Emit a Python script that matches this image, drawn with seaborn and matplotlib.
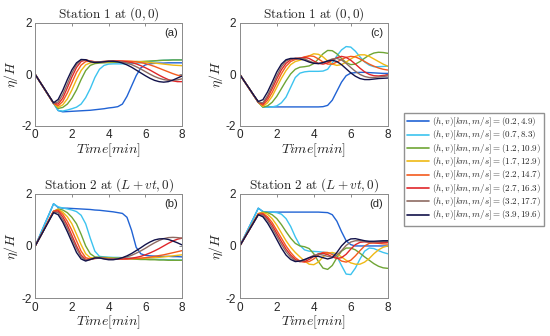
import numpy as np
import pandas as pd
import matplotlib
matplotlib.use("Agg")
import matplotlib.pyplot as plt
import seaborn as sns

# time axis [min]
time = [0, 0.25, 0.5, 0.75, 1, 1.25, 1.5, 1.75, 2, 2.25, 2.5, 2.75, 3, 3.25, 3.5, 3.75,
        4, 4.25, 4.5, 4.75, 5, 5.25, 5.5, 5.75, 6, 6.25, 6.5, 6.75, 7, 7.25, 7.5, 7.75, 8]

cases = ["(0.2,4.9)", "(0.7,8.3)", "(1.2,10.9)", "(1.7,12.9)",
         "(2.2,14.7)", "(2.7,16.3)", "(3.2,17.7)", "(3.9,19.6)"]
colors = ["#2163d4", "#3cc3ef", "#6fa535", "#efb914",
          "#f45a1e", "#e0262a", "#8e6b62", "#12124a"]

# panel (a): station 1, model 1
eta_a = [
    [0, -.28, -.56, -.84, -1.12, -1.4, -1.45, -1.44, -1.43, -1.42, -1.41, -1.4, -1.39, -1.37, -1.35, -1.33,
     -1.3, -1.28, -1.25, -1.15, -0.85, -0.45, -0.05, 0.25, 0.37, 0.41, 0.43, 0.44, 0.44, 0.45, 0.45, 0.45, 0.45],
    [0, -.28, -.56, -.84, -1.12, -1.4, -1.42, -1.38, -1.33, -1.27, -1.15, -0.9, -0.55, -0.12, 0.2, 0.35,
     0.4, 0.41, 0.41, 0.41, 0.41, 0.42, 0.43, 0.45, 0.47, 0.5, 0.52, 0.54, 0.55, 0.56, 0.57, 0.57, 0.57],
    [0, -.28, -.56, -.84, -1.12, -1.32, -1.28, -1.15, -0.92, -0.6, -0.2, 0.15, 0.35, 0.42, 0.44, 0.45,
     0.46, 0.47, 0.47, 0.48, 0.48, 0.49, 0.5, 0.5, 0.51, 0.52, 0.53, 0.54, 0.55, 0.55, 0.56, 0.56, 0.56],
    [0, -.28, -.56, -.84, -1.12, -1.28, -1.18, -0.95, -0.6, -0.2, 0.15, 0.37, 0.45, 0.46, 0.47, 0.48,
     0.49, 0.5, 0.5, 0.5, 0.5, 0.5, 0.5, 0.49, 0.48, 0.46, 0.44, 0.42, 0.4, 0.38, 0.36, 0.35, 0.34],
    [0, -.28, -.56, -.84, -1.12, -1.22, -1.05, -0.72, -0.32, 0.08, 0.36, 0.5, 0.51, 0.49, 0.49, 0.5,
     0.51, 0.52, 0.52, 0.52, 0.52, 0.51, 0.49, 0.46, 0.42, 0.37, 0.31, 0.24, 0.17, 0.1, 0.03, -0.03, -0.07],
    [0, -.28, -.56, -.84, -1.12, -1.15, -0.92, -0.52, -0.1, 0.27, 0.5, 0.56, 0.52, 0.49, 0.49, 0.5,
     0.51, 0.52, 0.52, 0.51, 0.49, 0.46, 0.41, 0.34, 0.26, 0.17, 0.07, -0.03, -0.12, -0.2, -0.25, -0.28, -0.28],
    [0, -.28, -.56, -.84, -1.12, -1.07, -0.78, -0.37, 0.05, 0.38, 0.55, 0.57, 0.51, 0.48, 0.49, 0.5,
     0.51, 0.51, 0.5, 0.48, 0.44, 0.38, 0.3, 0.21, 0.11, 0.01, -0.08, -0.15, -0.2, -0.23, -0.23, -0.21, -0.17],
    [0, -.28, -.55, -.83, -1.1, -0.97, -0.62, -0.2, 0.18, 0.45, 0.58, 0.57, 0.49, 0.46, 0.47, 0.49,
     0.51, 0.51, 0.49, 0.44, 0.37, 0.28, 0.17, 0.06, -0.05, -0.15, -0.23, -0.28, -0.3, -0.28, -0.22, -0.14, -0.06],
]

# panel (b): station 2, model 1
eta_b = [
    [0, .4, .81, 1.21, 1.62, 1.48, 1.45, 1.45, 1.44, 1.43, 1.42, 1.41, 1.4, 1.38, 1.37, 1.35,
     1.33, 1.31, 1.28, 1.25, 1.1, 0.6, -0.05, -0.3, -0.36, -0.38, -0.39, -0.4, -0.4, -0.4, -0.41, -0.41, -0.42],
    [0, .4, .81, 1.21, 1.62, 1.5, 1.46, 1.42, 1.38, 1.32, 1.18, 0.85, 0.3, -0.2, -0.4, -0.42,
     -0.43, -0.44, -0.44, -0.45, -0.46, -0.47, -0.48, -0.49, -0.5, -0.5, -0.51, -0.52, -0.52, -0.53, -0.53, -0.54, -0.54],
    [0, .33, .66, 1.0, 1.33, 1.42, 1.38, 1.28, 1.1, 0.85, 0.45, 0.0, -0.3, -0.42, -0.43, -0.44,
     -0.45, -0.46, -0.47, -0.48, -0.49, -0.5, -0.51, -0.52, -0.52, -0.53, -0.53, -0.54, -0.54, -0.55, -0.55, -0.55, -0.55],
    [0, .33, .66, 1.0, 1.33, 1.4, 1.3, 1.12, 0.85, 0.45, 0.05, -0.3, -0.45, -0.46, -0.46, -0.47,
     -0.47, -0.48, -0.48, -0.48, -0.48, -0.48, -0.48, -0.48, -0.47, -0.46, -0.45, -0.44, -0.42, -0.4, -0.38, -0.36, -0.34],
    [0, .33, .66, 1.0, 1.33, 1.38, 1.22, 0.95, 0.6, 0.2, -0.2, -0.45, -0.5, -0.48, -0.47, -0.48,
     -0.49, -0.5, -0.5, -0.5, -0.5, -0.49, -0.48, -0.47, -0.45, -0.43, -0.4, -0.37, -0.34, -0.3, -0.26, -0.22, -0.18],
    [0, .33, .66, 1.0, 1.33, 1.34, 1.12, 0.8, 0.4, 0.0, -0.35, -0.52, -0.52, -0.48, -0.47, -0.48,
     -0.49, -0.5, -0.5, -0.5, -0.49, -0.47, -0.44, -0.4, -0.34, -0.27, -0.19, -0.1, 0.0, 0.1, 0.19, 0.26, 0.3],
    [0, .32, .65, .97, 1.3, 1.28, 1.02, 0.68, 0.28, -0.1, -0.42, -0.55, -0.52, -0.47, -0.46, -0.48,
     -0.5, -0.5, -0.49, -0.46, -0.42, -0.36, -0.28, -0.19, -0.09, 0.02, 0.12, 0.21, 0.28, 0.32, 0.33, 0.32, 0.3],
    [0, .32, .64, .96, 1.28, 1.2, 0.92, 0.55, 0.15, -0.25, -0.5, -0.58, -0.52, -0.46, -0.46, -0.5,
     -0.53, -0.53, -0.5, -0.45, -0.38, -0.29, -0.18, -0.07, 0.05, 0.15, 0.23, 0.27, 0.28, 0.25, 0.19, 0.12, 0.04],
]

# panel (c): station 1, model 2
eta_c = [
    [0, -.27, -.54, -.81, -1.08, -1.25, -1.26, -1.26, -1.26, -1.26, -1.26, -1.26, -1.26, -1.26, -1.26, -1.26,
     -1.26, -1.26, -1.25, -1.2, -1.0, -0.65, -0.3, -0.05, 0.05, 0.07, 0.08, 0.08, 0.07, 0.06, 0.05, 0.04, 0.04],
    [0, -.27, -.54, -.81, -1.08, -1.27, -1.27, -1.26, -1.22, -1.1, -0.88, -0.5, -0.12, 0.05, 0.1, 0.12,
     0.12, 0.12, 0.13, 0.2, 0.45, 0.72, 0.95, 1.08, 1.06, 0.9, 0.68, 0.48, 0.36, 0.3, 0.3, 0.31, 0.32],
    [0, -.27, -.54, -.81, -1.08, -1.27, -1.22, -1.08, -0.85, -0.55, -0.25, 0.02, 0.2, 0.28, 0.3, 0.33,
     0.42, 0.6, 0.8, 0.93, 0.92, 0.8, 0.62, 0.46, 0.38, 0.4, 0.5, 0.63, 0.75, 0.83, 0.86, 0.85, 0.82],
    [0, -.27, -.54, -.81, -1.08, -1.24, -1.1, -0.85, -0.5, -0.15, 0.15, 0.38, 0.5, 0.55, 0.62, 0.72,
     0.8, 0.78, 0.68, 0.52, 0.4, 0.35, 0.38, 0.48, 0.6, 0.7, 0.76, 0.76, 0.7, 0.6, 0.5, 0.4, 0.32],
    [0, -.27, -.54, -.81, -1.08, -1.2, -1.0, -0.7, -0.33, 0.03, 0.32, 0.5, 0.58, 0.62, 0.68, 0.72,
     0.7, 0.6, 0.48, 0.4, 0.4, 0.48, 0.58, 0.66, 0.7, 0.68, 0.6, 0.5, 0.4, 0.32, 0.25, 0.2, 0.17],
    [0, -.27, -.54, -.81, -1.08, -1.15, -0.9, -0.55, -0.17, 0.18, 0.43, 0.57, 0.62, 0.64, 0.66, 0.62,
     0.52, 0.43, 0.4, 0.45, 0.55, 0.65, 0.7, 0.66, 0.55, 0.4, 0.24, 0.1, 0.0, -0.05, -0.06, -0.04, -0.02],
    [0, -.27, -.54, -.81, -1.08, -1.1, -0.82, -0.45, -0.05, 0.3, 0.52, 0.6, 0.62, 0.63, 0.6, 0.52,
     0.45, 0.42, 0.45, 0.53, 0.6, 0.62, 0.56, 0.43, 0.27, 0.12, 0.0, -0.08, -0.12, -0.12, -0.1, -0.08, -0.06],
    [0, -.27, -.53, -.8, -1.05, -0.98, -0.68, -0.3, 0.1, 0.4, 0.57, 0.62, 0.62, 0.6, 0.55, 0.48,
     0.43, 0.42, 0.46, 0.52, 0.55, 0.5, 0.38, 0.22, 0.06, -0.07, -0.16, -0.2, -0.2, -0.18, -0.16, -0.15, -0.14],
]

# panel (d): station 2, model 2
eta_d = [
    [0, .36, .72, 1.08, 1.45, 1.32, 1.3, 1.3, 1.3, 1.3, 1.3, 1.3, 1.3, 1.3, 1.3, 1.3,
     1.3, 1.3, 1.29, 1.28, 1.2, 0.95, 0.55, 0.2, 0.05, 0.0, 0.0, 0.0, 0.0, 0.0, 0.0, 0.0, 0.0],
    [0, .36, .72, 1.08, 1.45, 1.32, 1.3, 1.3, 1.28, 1.22, 1.05, 0.75, 0.35, 0.02, -0.15, -0.2,
     -0.21, -0.22, -0.24, -0.26, -0.28, -0.4, -0.75, -1.08, -1.1, -0.85, -0.5, -0.2, -0.08, -0.1, -0.18, -0.25, -0.3],
    [0, .31, .62, .93, 1.24, 1.3, 1.28, 1.2, 1.05, 0.82, 0.55, 0.3, 0.1, 0.0, -0.03, -0.1,
     -0.3, -0.6, -0.85, -0.9, -0.75, -0.45, -0.2, -0.08, -0.08, -0.15, -0.28, -0.42, -0.55, -0.68, -0.78, -0.84, -0.86],
    [0, .31, .62, .93, 1.24, 1.28, 1.22, 1.05, 0.8, 0.5, 0.2, -0.05, -0.25, -0.42, -0.58, -0.7,
     -0.72, -0.62, -0.42, -0.28, -0.25, -0.3, -0.42, -0.55, -0.65, -0.7, -0.7, -0.62, -0.48, -0.3, -0.15, -0.05, 0.0],
    [0, .31, .62, .93, 1.24, 1.25, 1.12, 0.9, 0.6, 0.3, 0.0, -0.25, -0.45, -0.58, -0.62, -0.6,
     -0.5, -0.35, -0.25, -0.25, -0.33, -0.45, -0.58, -0.62, -0.55, -0.38, -0.18, 0.0, 0.1, 0.12, 0.1, 0.08, 0.07],
    [0, .3, .6, .9, 1.2, 1.22, 1.05, 0.8, 0.48, 0.17, -0.12, -0.35, -0.52, -0.6, -0.6, -0.52,
     -0.4, -0.3, -0.28, -0.33, -0.42, -0.48, -0.45, -0.32, -0.12, 0.05, 0.14, 0.16, 0.14, 0.12, 0.12, 0.13, 0.14],
    [0, .3, .6, .9, 1.2, 1.18, 0.98, 0.7, 0.38, 0.06, -0.22, -0.43, -0.57, -0.6, -0.55, -0.45,
     -0.36, -0.32, -0.35, -0.4, -0.42, -0.35, -0.18, 0.02, 0.15, 0.2, 0.2, 0.17, 0.15, 0.15, 0.16, 0.17, 0.18],
    [0, .3, .6, .9, 1.2, 1.12, 0.88, 0.58, 0.25, -0.08, -0.35, -0.52, -0.6, -0.58, -0.52, -0.45,
     -0.4, -0.4, -0.45, -0.5, -0.45, -0.25, 0.0, 0.18, 0.27, 0.28, 0.24, 0.2, 0.18, 0.18, 0.19, 0.2, 0.2],
]

titles = [r"$\mathrm{Station\ 1\ at\ }(0,0)$", r"$\mathrm{Station\ 2\ at\ }(L+vt,0)$"]


def to_long(series):
    rows = []
    for case, vals in zip(cases, series):
        for t, v in zip(time, vals):
            rows.append((t, v, case))
    return pd.DataFrame(rows, columns=["time", "eta", "case"])


sns.set_style("white")
plt.rcParams["font.family"] = ["Liberation Sans", "DejaVu Sans"]
plt.rcParams["mathtext.fontset"] = "cm"
plt.rcParams["axes.unicode_minus"] = False

fig = plt.figure(figsize=(5.5, 3.36), dpi=100)
boxes = {
    "a": [0.064, 0.625, 0.267, 0.307],
    "b": [0.064, 0.113, 0.267, 0.310],
    "c": [0.436, 0.625, 0.269, 0.307],
    "d": [0.436, 0.113, 0.269, 0.310],
}
panels = {"a": (eta_a, titles[0]), "b": (eta_b, titles[1]),
          "c": (eta_c, titles[0]), "d": (eta_d, titles[1])}
palette = dict(zip(cases, colors))

for key, (series, title) in panels.items():
    ax = fig.add_axes(boxes[key])
    sns.lineplot(data=to_long(series), x="time", y="eta", hue="case",
                 palette=palette, hue_order=cases, linewidth=1.0,
                 legend=False, ax=ax)
    ax.set_xlim(0, 8)
    ax.set_ylim(-2, 2)
    ax.set_xticks([0, 2, 4, 6, 8])
    ax.set_yticks([-2, 0, 2])
    ax.tick_params(direction="in", top=True, right=True, length=2.5,
                   width=0.6, color="#777777", labelsize=8.5, pad=2.5)
    for s in ax.spines.values():
        s.set_color("#8a8a8a")
        s.set_linewidth(0.7)
    ax.set_title(title, fontsize=9.5, pad=4)
    ax.set_xlabel(r"$Time[min]$", fontsize=10, labelpad=0)
    ax.set_ylabel(r"$\eta/H$", fontsize=10, labelpad=1)
    ax.text(0.97, 0.95, f"({key})", transform=ax.transAxes,
            ha="right", va="top", fontsize=8)

handles = [plt.Line2D([], [], color=c, lw=1.2) for c in colors]
labels = [r"$(h,v)[km,m/s]=" + c + "$" for c in cases]
fig.legend(handles, labels, loc="upper left", bbox_to_anchor=(0.735, 0.665),
           borderaxespad=0, fontsize=6.5, handlelength=2.4, handletextpad=0.3,
           labelspacing=0.0, borderpad=0.35, frameon=True, fancybox=False,
           edgecolor="#777777")

fig.savefig("out.png", dpi=100)
